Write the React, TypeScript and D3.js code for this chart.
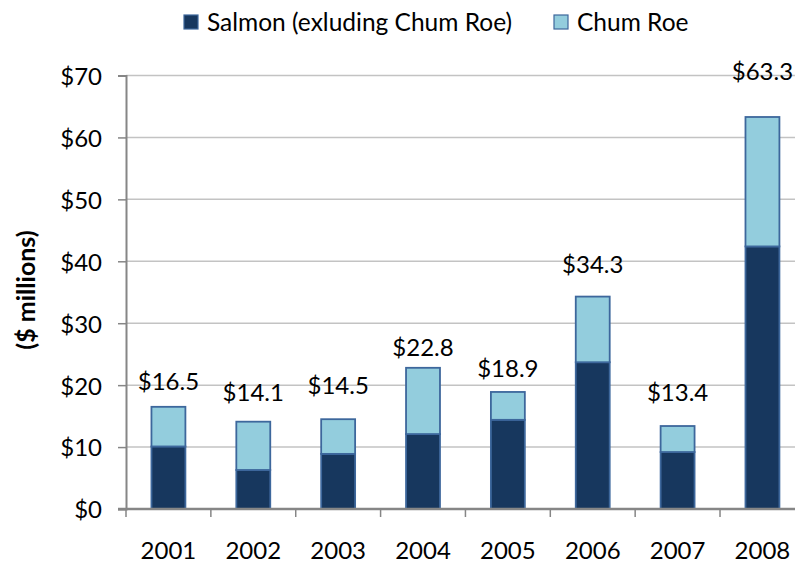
import { useEffect, useRef } from "react"
import * as d3 from "d3"

// values ($ millions)
const years = ["2001", "2002", "2003", "2004", "2005", "2006", "2007", "2008"]
const salmon = [10.1, 6.3, 8.9, 12.1, 14.4, 23.7, 9.2, 42.4]
const chumRoe = [6.4, 7.8, 5.6, 10.7, 4.5, 10.6, 4.2, 20.9]
const totalLabels = ["$16.5", "$14.1", "$14.5", "$22.8", "$18.9", "$34.3", "$13.4", "$63.3"]
const yTicks = [0, 10, 20, 30, 40, 50, 60, 70]
const seriesNames = ["Salmon (exluding Chum Roe)", "Chum Roe"]

// labels were hand-placed in the original, lifted above each bar by these amounts
const labelLift = [17, 21, 25, 12, 15, 24, 25, 37]

const W = 795
const H = 563
const FONT = "Lato, 'Open Sans', sans-serif"
const colors = ["#17375e", "#93cddd"]
const stroke = "#3d679c"

function App() {
	const ref = useRef<SVGSVGElement>(null)

	useEffect(() => {
		const svg = d3.select(ref.current)
		svg.selectAll("*").remove()

		const left = 126
		const top = 75.5
		const bottom = 509
		const step = 84.86
		const right = left + step * years.length

		const x = d3
			.scaleBand()
			.domain(years)
			.range([left, right])
			.paddingInner(0.6)
			.paddingOuter(0.3)

		const y = d3.scaleLinear().domain([0, 70]).range([bottom, top])

		// gridlines
		svg
			.append("g")
			.selectAll("line")
			.data(yTicks.filter((d) => d > 0))
			.enter()
			.append("line")
			.attr("x1", left)
			.attr("x2", right)
			.attr("y1", (d) => y(d))
			.attr("y2", (d) => y(d))
			.attr("stroke", "#c3c3c3")
			.attr("stroke-width", 1.5)

		// y axis
		const yAxis = svg
			.append("g")
			.attr("transform", `translate(${left},0)`)
			.call(
				d3
					.axisLeft(y)
					.tickValues(yTicks)
					.tickSize(8)
					.tickPadding(16)
					.tickFormat((d) => `$${d}`)
			)
		yAxis.select(".domain").attr("stroke", "#868686").attr("stroke-width", 2)
		yAxis.selectAll(".tick line").attr("stroke", "#868686").attr("stroke-width", 1.5)
		yAxis
			.selectAll(".tick text")
			.attr("font-family", FONT)
			.attr("font-size", 24)
			.attr("fill", "#000")
			.attr("dy", "0.37em")

		// stacked bars
		const stacked = years.map((yr, i) => ({ year: yr, salmon: salmon[i], chum: chumRoe[i] }))
		const series = d3.stack<any>().keys(["salmon", "chum"])(stacked)

		svg
			.append("g")
			.selectAll("g")
			.data(series)
			.enter()
			.append("g")
			.attr("fill", (d, i) => colors[i])
			.selectAll("rect")
			.data((d) => d)
			.enter()
			.append("rect")
			.attr("x", (d: any) => x(d.data.year)!)
			.attr("y", (d) => y(d[1]))
			.attr("width", x.bandwidth())
			.attr("height", (d) => y(d[0]) - y(d[1]))
			.attr("stroke", stroke)
			.attr("stroke-width", 1.8)

		// x axis
		const xAxis = svg
			.append("g")
			.attr("transform", `translate(0,${bottom})`)
		xAxis
			.append("line")
			.attr("x1", left - 8)
			.attr("x2", right)
			.attr("stroke", "#868686")
			.attr("stroke-width", 2.5)
		xAxis
			.selectAll(".tk")
			.data(d3.range(years.length + 1))
			.enter()
			.append("line")
			.attr("x1", (i) => left + i * x.step())
			.attr("x2", (i) => left + i * x.step())
			.attr("y1", 0)
			.attr("y2", 8)
			.attr("stroke", "#868686")
			.attr("stroke-width", 1.5)
		xAxis
			.selectAll("text")
			.data(years)
			.enter()
			.append("text")
			.attr("x", (d) => x(d)! + x.bandwidth() / 2)
			.attr("y", 50)
			.attr("text-anchor", "middle")
			.attr("font-family", FONT)
			.attr("font-size", 24)
			.text((d) => d)

		// total labels
		svg
			.append("g")
			.selectAll("text")
			.data(years)
			.enter()
			.append("text")
			.attr("x", (d) => x(d)! + x.bandwidth() / 2)
			.attr("y", (d, i) => y(salmon[i] + chumRoe[i]) - labelLift[i])
			.attr("text-anchor", "middle")
			.attr("font-family", FONT)
			.attr("font-size", 24)
			.text((d, i) => totalLabels[i])

		// y title
		svg
			.append("text")
			.attr("transform", "translate(35,290) rotate(-90)")
			.attr("text-anchor", "middle")
			.attr("font-family", FONT)
			.attr("font-weight", "bold")
			.attr("font-size", 25)
			.text("($ millions)")

		// legend
		const legendX = [184, 554]
		const legend = svg
			.append("g")
			.selectAll("g")
			.data(seriesNames)
			.enter()
			.append("g")
			.attr("transform", (d, i) => `translate(${legendX[i]},15)`)
		legend
			.append("rect")
			.attr("width", 14)
			.attr("height", 14)
			.attr("fill", (d, i) => colors[i])
			.attr("stroke", stroke)
			.attr("stroke-width", 1.2)
		legend
			.append("text")
			.attr("x", 23)
			.attr("y", 16)
			.attr("font-family", FONT)
			.attr("font-size", 24.5)
			.text((d) => d)
	}, [])

	return (
		<svg
			ref={ref}
			width={W}
			height={H}
			style={{ position: "absolute", left: 0, top: 0, background: "#fff" }}
		></svg>
	)
}

export default App
